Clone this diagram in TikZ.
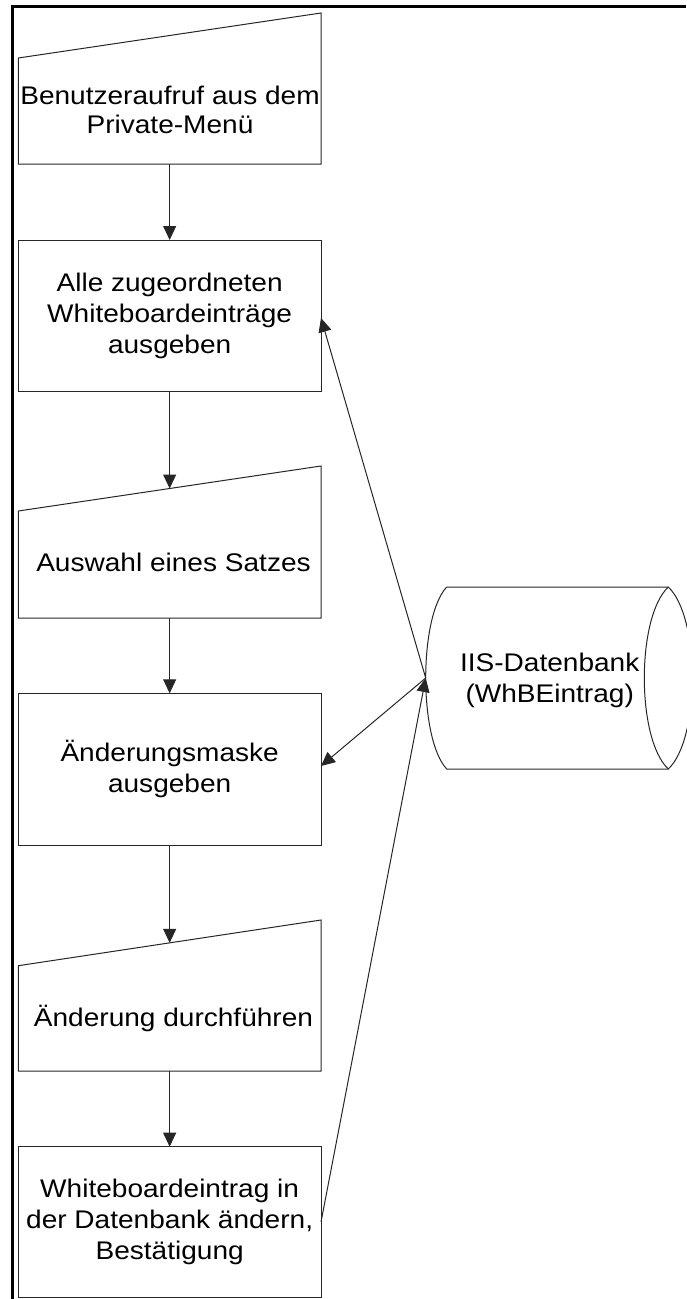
\documentclass[tikz,border=0pt]{standalone}
\usepackage{fontspec}
\setmainfont{Liberation Sans}[FakeStretch=1.1]
\usetikzlibrary{arrows.meta}
\begin{document}
\begin{tikzpicture}[x=1pt,y=-1pt,
  every node/.style={font=\fontsize{25.5}{31}\selectfont, align=center, inner sep=0pt, outer sep=0pt},
  proc/.style={draw=black!85, line width=1pt, minimum width=302.7pt},
  outline/.style={draw=black!85, line width=1pt},
  flow/.style={draw=black!85, line width=1pt, -{Triangle[length=14pt,width=13pt]}},
]
\useasboundingbox (0,0) rectangle (686,1299);

% frame along the top and left edge
\draw[line width=3.5pt] (686,6.5) -- (12.5,6.5) -- (12.5,1302);

% manual input: call from the private menu
\draw[outline] (18.3,58) -- (321,13) -- (321,164) -- (18.3,164) -- cycle;
\node (in1) at (170,109.5) {Benutzeraufruf aus dem\\[-2pt]Private-Menü};
\coordinate (in1s) at (169.65,164);

% process: list entries
\node[proc, minimum height=151pt] (p2) at (169.65,315.5) {Alle zugeordneten\\Whiteboardeinträge\\ausgeben};

% manual input: choose a record
\draw[outline] (18.3,511) -- (321,466) -- (321,618) -- (18.3,618) -- cycle;
\node (in3) at (173.5,562) {Auswahl eines Satzes};
\coordinate (in3n) at (169.65,488.5);
\coordinate (in3s) at (169.65,618);

% process: edit mask
\node[proc, minimum height=151.7pt] (p4) at (169.65,769.15) {Änderungsmaske\\ausgeben};

% manual input: perform change
\draw[outline] (18.3,965.7) -- (321,920) -- (321,1071) -- (18.3,1071) -- cycle;
\node (in5) at (173.5,1018.7) {Änderung durchführen};
\coordinate (in5n) at (169.65,942.85);
\coordinate (in5s) at (169.65,1071);

% process: write to database
\node[proc, minimum height=150.3pt] (p6) at (169.65,1221.85) {Whiteboardeintrag in\\der Datenbank ändern,\\Bestätigung};

% direct access storage
\draw[outline] (446.7,587) -- (668.3,587)
  .. controls (700.3,617) and (700.3,739) .. (668.3,769)
  -- (446.7,769)
  .. controls (418.7,739) and (418.7,617) .. (446.7,587) -- cycle;
\draw[outline] (668.3,587) .. controls (636.3,617) and (636.3,739) .. (668.3,769);
\node (db) at (549.7,680.5) {IIS-Datenbank\\(WhBEintrag)};
\coordinate (dbw) at (425.7,678);

% main flow
\draw[flow] (in1s) -- (p2.north);
\draw[flow] (p2.south) -- (in3n);
\draw[flow] (in3s) -- (p4.north);
\draw[flow] (p4.south) -- (in5n);
\draw[flow] (in5s) -- (p6.north);

% database links
\coordinate (p2e) at (321,318);
\coordinate (p4e) at (321,766);
\coordinate (p6e) at (321,1222);
\draw[flow] (dbw) -- (p2e);
\draw[flow] (dbw) -- (p4e);
\draw[flow] (p6e) -- (dbw);
\end{tikzpicture}
\end{document}
